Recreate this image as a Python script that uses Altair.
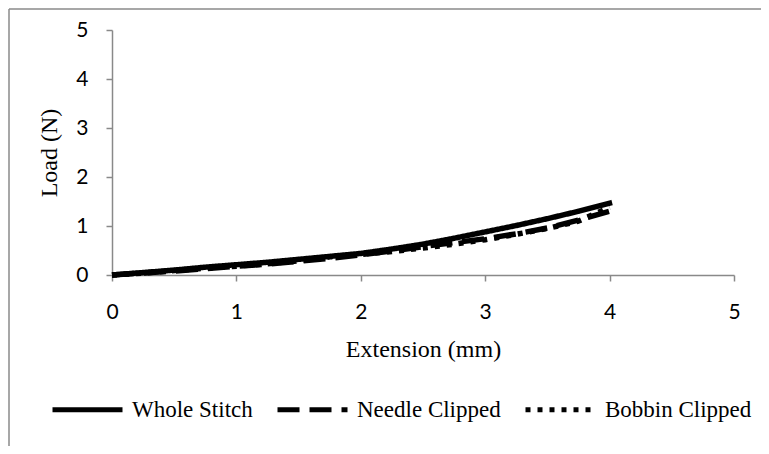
import altair as alt
import pandas as pd

series_names = ["Whole Stitch", "Needle Clipped", "Bobbin Clipped"]

whole_x = [0, 0.25, 0.5, 0.75, 1.0, 1.25, 1.5, 1.75, 2.0, 2.25, 2.5, 2.75, 3.0, 3.25, 3.5, 3.75, 4.02]
whole_y = [0, 0.05, 0.10, 0.16, 0.21, 0.26, 0.32, 0.38, 0.44, 0.53, 0.63, 0.75, 0.88, 1.01, 1.15, 1.30, 1.48]

needle_x = [0, 0.25, 0.5, 0.75, 1.0, 1.25, 1.5, 1.75, 2.0, 2.25, 2.5, 2.75, 3.0, 3.25, 3.5, 3.75, 4.0]
needle_y = [0, 0.04, 0.08, 0.13, 0.18, 0.22, 0.28, 0.34, 0.41, 0.49, 0.58, 0.66, 0.74, 0.84, 0.96, 1.12, 1.30]

bobbin_x = [0, 0.25, 0.5, 0.75, 1.0, 1.25, 1.5, 1.75, 2.0, 2.25, 2.5, 2.75, 3.0, 3.25, 3.5, 3.75, 4.0]
bobbin_y = [0, 0.04, 0.09, 0.14, 0.18, 0.23, 0.29, 0.37, 0.42, 0.48, 0.55, 0.63, 0.72, 0.83, 0.95, 1.10, 1.38]

axis_ticks = [0, 1, 2, 3, 4, 5]

rows = []
for name, xs, ys in zip(series_names, [whole_x, needle_x, bobbin_x], [whole_y, needle_y, bobbin_y]):
    for i, (a, b) in enumerate(zip(xs, ys)):
        rows.append({"Series": name, "Extension": a, "Load": b, "order": i})
df = pd.DataFrame(rows)

lines = alt.Chart(df).mark_line(color="black", strokeWidth=5.5, strokeCap="butt", strokeJoin="round").encode(
    x=alt.X("Extension:Q", scale=alt.Scale(domain=[0, 5], nice=False),
            axis=alt.Axis(values=axis_ticks, title="Extension (mm)", format="d", labelFlush=False)),
    y=alt.Y("Load:Q", scale=alt.Scale(domain=[0, 5], nice=False),
            axis=alt.Axis(values=axis_ticks, title="Load (N)", format="d", labelFlush=False)),
    strokeDash=alt.StrokeDash("Series:N",
        scale=alt.Scale(domain=series_names, range=[[1, 0], [22, 10], [5, 7]]),
        sort=series_names,
        legend=alt.Legend(title=None, orient="none", direction="horizontal",
                          legendX=-62, legendY=342, symbolType="stroke",
                          symbolSize=4900, symbolStrokeWidth=5, symbolStrokeColor="black",
                          labelFont="Liberation Serif", labelFontSize=23, labelColor="black",
                          labelOffset=7, columnPadding=14, padding=0)),
    detail="Series:N",
    order="order:Q",
)

frame_df = pd.DataFrame({"k": [0]})
top_line = alt.Chart(frame_df).mark_rule(color="#8a8a8a", strokeWidth=1.5).encode(
    x=alt.value(-103), x2=alt.value(660), y=alt.value(-21))
left_line = alt.Chart(frame_df).mark_rule(color="#8a8a8a", strokeWidth=1.5).encode(
    x=alt.value(-103), y=alt.value(-21), y2=alt.value(430))

chart = alt.layer(lines, top_line, left_line).properties(
    width=622, height=245,
    autosize=alt.AutoSizeParams(type="none"),
    padding={"left": 104, "top": 22, "right": 27, "bottom": 171},
    background="white",
).configure_view(stroke=None).configure_axis(
    grid=False, domainColor="#898989", tickColor="#898989", domainWidth=1.5, tickWidth=1.5,
    tickSize=6, labelFont="Lato", labelFontSize=21, labelColor="black",
    titleFont="Liberation Serif", titleFontSize=24, titleFontWeight="normal", titleColor="black",
).configure_axisX(labelPadding=20, titlePadding=15).configure_axisY(labelPadding=18, titlePadding=14)

chart.save("out.html", embed_options={"renderer": "svg", "actions": False})
